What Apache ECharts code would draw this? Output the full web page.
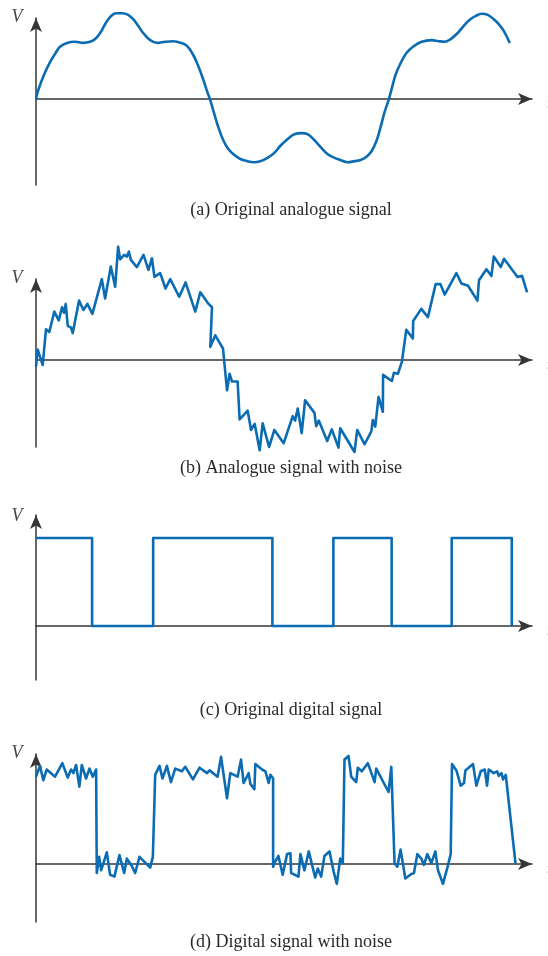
<!DOCTYPE html>
<html>
<head>
<meta charset="utf-8">
<script src="https://cdn.jsdelivr.net/npm/echarts@6/dist/echarts.min.js"></script>
<style>
html,body{margin:0;padding:0;background:#fff;}
#chart{width:548px;height:956px;}
</style>
</head>
<body>
<div id="chart"></div>
<script>
// (a) Original analogue signal: time (bit periods x10) and voltage
var analogT = [0,0.34,1.35,2.36,3.2,4.04,5.22,6.57,7.92,9.09,9.94,10.78,11.62,12.46,13.47,14.48,15.5,16.34,17.18,18.02,19.2,20.38,21.73,23.07,24.42,25.43,26.44,27.28,28.13,28.8,29.3,29.98,30.65,31.49,32.34,33.35,34.36,35.54,36.55,37.73,38.91,40.08,41.09,42.27,43.45,44.63,45.64,46.82,47.83,49.01,50.19,51.2,52.38,53.56,54.57,55.58,56.42,57.26,57.94,58.61,59.28,59.79,60.46,61.3,62.32,63.5,64.84,66.53,67.71,68.72,69.73,70.91,71.92,72.93,73.94,74.95,75.96,76.97,77.81,78.65,79.66];
var analogV = [0,0.15,0.44,0.67,0.82,0.95,1.02,1.04,1.02,1.04,1.09,1.2,1.36,1.49,1.56,1.56,1.53,1.45,1.33,1.2,1.07,1.02,1.04,1.05,1.02,0.96,0.8,0.6,0.35,0.13,-0.02,-0.27,-0.51,-0.75,-0.91,-1.02,-1.09,-1.13,-1.15,-1.13,-1.07,-0.98,-0.85,-0.73,-0.64,-0.62,-0.64,-0.75,-0.87,-1.0,-1.07,-1.11,-1.15,-1.13,-1.11,-1.05,-0.95,-0.76,-0.51,-0.24,-0.02,0.18,0.44,0.65,0.84,0.96,1.04,1.07,1.05,1.04,1.09,1.2,1.33,1.44,1.51,1.55,1.53,1.45,1.36,1.24,1.02];

// (b) Analogue signal with noise
var noisyT = [0,0.29,1.13,1.68,2.24,3.08,3.82,4.38,4.72,5.0,5.34,5.89,6.18,7.24,7.97,8.64,9.48,11.07,11.62,12.58,13.31,13.81,14.15,14.82,15.28,15.61,15.95,16.96,18.07,18.91,19.49,19.92,20.88,21.78,22.57,24.08,25.15,26.78,27.62,29.02,29.59,29.31,30.15,31.44,32.12,32.56,32.96,33.9,34.24,35.59,36.16,36.77,37.61,38.11,39.19,40.08,41.65,43.17,43.57,44.01,44.68,45.25,46.82,47.11,47.55,48.96,49.73,50.86,51.15,53.56,54.01,55.24,56.37,56.64,57.04,57.6,58.32,58.36,59.84,60.18,60.85,61.53,62.26,63.37,63.42,64.79,65.9,67.2,67.99,68.72,70.69,71.53,72.64,74.22,74.49,75.74,76.58,76.97,78.15,78.7,80.96,81.73,82.58];
var noisyV = [-0.12,0.19,-0.09,0.56,0.51,0.88,0.72,0.96,0.86,1.02,0.62,0.59,0.49,1.08,0.91,1.02,0.84,1.47,1.12,1.70,1.33,2.06,1.83,1.91,1.88,1.97,1.82,1.69,1.91,1.64,1.85,1.51,1.58,1.30,1.47,1.15,1.41,0.88,1.23,1.02,0.96,0.24,0.45,0.21,-0.55,-0.25,-0.39,-0.39,-1.08,-0.92,-1.27,-1.16,-1.64,-1.15,-1.58,-1.27,-1.51,-1.02,-1.10,-0.88,-1.33,-0.73,-0.96,-1.20,-1.10,-1.47,-1.26,-1.59,-1.24,-1.67,-1.27,-1.53,-1.30,-1.09,-1.21,-0.67,-0.94,-0.27,-0.38,-0.23,-0.25,-0.03,0.55,0.39,0.71,0.93,0.78,1.38,1.38,1.19,1.58,1.39,1.35,1.08,1.45,1.65,1.53,1.88,1.69,1.84,1.51,1.53,1.23];

// (c) Original digital signal: level change times and levels
var bitT = [0,9.43,19.7,39.75,50.0,59.8,69.9,80];
var bitV = [1,0,1,0,1,0,1,0];

// (d) Digital signal with noise
var noisyDigT = [0,0.67,1.23,1.8,3.2,4.43,5.34,5.89,6.28,6.74,7.29,7.7,8.42,8.98,9.55,10.11,10.22,10.61,10.95,11.91,12.46,13.19,14.03,14.82,15.28,16.0,16.67,17.4,19.2,19.65,20.04,20.77,21.27,22.01,22.69,23.41,24.54,25.09,26.39,27.5,28.75,29.19,30.53,31.11,32.12,32.67,33.9,34.48,34.91,35.76,36.04,36.72,36.88,38.01,38.57,39.12,39.41,39.87,39.87,40.08,40.76,41.48,42.22,42.78,42.9,44.13,44.46,45.14,45.86,46.94,47.38,47.95,48.5,49.35,50.07,50.58,51.15,51.59,51.87,52.55,53.0,53.84,54.11,54.79,55.8,56.93,57.21,59.28,59.74,60.29,60.75,61.3,62.1,63.11,63.55,64.12,64.79,65.23,65.8,66.48,67.15,67.59,68.43,69.17,69.73,69.95,70.69,71.41,71.97,72.2,73.48,74.05,74.78,75.45,75.84,76.13,76.97,77.52,77.81,78.27,78.53,78.99,80.62];
var noisyDigV = [0.97,1.09,0.93,1.05,0.97,1.12,0.96,1.05,1.01,1.1,0.86,1.1,0.95,1.06,0.97,1.05,-0.10,0.08,-0.07,0.13,-0.12,-0.14,0.10,-0.10,0.06,-0.01,-0.10,0.08,-0.04,0.08,0.99,1.09,0.95,1.09,0.91,1.06,1.03,1.08,0.94,1.07,1.01,1.04,0.97,1.19,0.73,1.01,0.97,1.16,0.90,1.01,0.89,0.83,1.11,1.05,1.03,0.90,0.99,0.95,-0.03,0.01,0.09,-0.12,0.11,0.12,-0.10,-0.14,0.11,-0.07,0.14,-0.15,-0.05,-0.14,0.09,0.14,-0.09,-0.22,0.06,0.01,1.16,1.2,0.97,0.91,1.07,1.03,1.12,0.91,1.06,0.8,1.08,0.01,-0.03,0.16,-0.16,-0.11,-0.10,0.11,0.06,-0.01,0.11,0.01,0.14,-0.07,-0.22,-0.04,0.11,1.11,1.04,0.87,0.9,1.04,1.11,0.87,1.03,1.05,0.87,1.05,1.01,1.03,0.98,1.01,0.94,0.99,0.01];

var captions = ['(a) Original analogue signal','(b) Analogue signal with noise','(c) Original digital signal','(d) Digital signal with noise'];

function pairs(t, v){ var out=[]; for(var i=0;i<t.length;i++) out.push([t[i], v[i]]); return out; }

var AXIS = '#363636', BLUE = '#0b6cb3';
var panels = [
  {top:18,  height:167, min:-1.5636, max:1.4727, zeroY:99,  vY:17,  capY:210},
  {top:279, height:168, min:-1.58,   max:1.4727, zeroY:360, vY:278, capY:468},
  {top:515, height:165, min:-0.614,  max:1.261,  zeroY:626, vY:516, capY:710},
  {top:754, height:168, min:-0.644,  max:1.222,  zeroY:864, vY:753, capY:942}
];
var grids=[], xAxes=[], yAxes=[], graphics=[];
panels.forEach(function(p,i){
  grids.push({left:36, right:16, top:p.top, height:p.height});
  xAxes.push({type:'value', gridIndex:i, min:0, max:83.4,
    axisLine:{onZero:true, lineStyle:{color:AXIS, width:1.5}, symbol:['none','arrow'], symbolSize:[9,14]},
    axisTick:{show:false}, axisLabel:{show:false}, splitLine:{show:false}});
  yAxes.push({type:'value', gridIndex:i, min:p.min, max:p.max,
    axisLine:{show:true, onZero:true, lineStyle:{color:AXIS, width:1.5}, symbol:['none','arrow'], symbolSize:[9,14]},
    axisTick:{show:false}, axisLabel:{show:false}, splitLine:{show:false}});
  graphics.push({type:'text', x:17, y:p.vY, style:{text:'V', fill:'#444', font:'italic 18px "Liberation Serif", serif', align:'center', verticalAlign:'middle'}});
  graphics.push({type:'text', x:547, y:p.zeroY+6, style:{text:'t', fill:'#444', font:'italic 16px "Liberation Serif", serif', align:'left', verticalAlign:'middle'}});
  graphics.push({type:'text', x:291, y:p.capY, style:{text:captions[i], fill:'#2a2a2a', font:'18px "Liberation Serif", serif', align:'center', verticalAlign:'middle'}});
});

var lineStyle = {color:BLUE, width:2.6, join:'round'};
var series = [
  {type:'line', xAxisIndex:0, yAxisIndex:0, data:pairs(analogT, analogV), smooth:0.4, showSymbol:false, clip:false, lineStyle:lineStyle},
  {type:'line', xAxisIndex:1, yAxisIndex:1, data:pairs(noisyT, noisyV), showSymbol:false, clip:false, lineStyle:lineStyle},
  {type:'line', xAxisIndex:2, yAxisIndex:2, data:pairs(bitT, bitV), step:'end', showSymbol:false, clip:false, lineStyle:lineStyle},
  {type:'line', xAxisIndex:3, yAxisIndex:3, data:pairs(noisyDigT, noisyDigV), showSymbol:false, clip:false, lineStyle:lineStyle}
];

var chart = echarts.init(document.getElementById('chart'), null, {renderer:'canvas'});
chart.setOption({animation:false, backgroundColor:'#fff', grid:grids, xAxis:xAxes, yAxis:yAxes, series:series, graphic:graphics});
</script>
</body>
</html>
